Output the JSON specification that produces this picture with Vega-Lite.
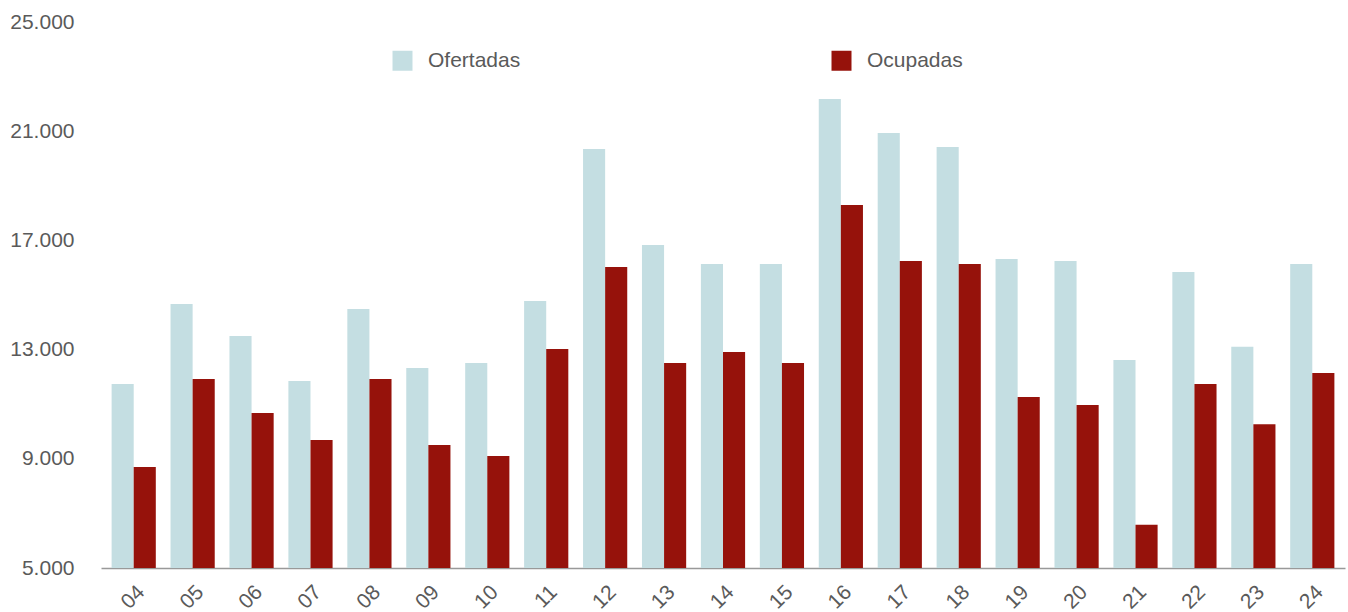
{
  "$schema": "https://vega.github.io/schema/vega-lite/v6.json",
  "autosize": {"type": "none"},
  "padding": {"left": 101, "top": 22, "right": 3, "bottom": 44},
  "width": 1244,
  "height": 546,
  "background": "#ffffff",
  "config": {
    "view": {"stroke": null},
    "font": "Liberation Sans",
    "axis": {"labelFont": "Liberation Sans", "labelColor": "#5a5a5a", "labelFontSize": 21}
  },
  "data": {
    "values": [
      {"anio": "04", "tipo": "Ofertadas", "plazas": 11740},
      {"anio": "04", "tipo": "Ocupadas", "plazas": 8700},
      {"anio": "05", "tipo": "Ofertadas", "plazas": 14670},
      {"anio": "05", "tipo": "Ocupadas", "plazas": 11920},
      {"anio": "06", "tipo": "Ofertadas", "plazas": 13500},
      {"anio": "06", "tipo": "Ocupadas", "plazas": 10680},
      {"anio": "07", "tipo": "Ofertadas", "plazas": 11850},
      {"anio": "07", "tipo": "Ocupadas", "plazas": 9690},
      {"anio": "08", "tipo": "Ofertadas", "plazas": 14490},
      {"anio": "08", "tipo": "Ocupadas", "plazas": 11920},
      {"anio": "09", "tipo": "Ofertadas", "plazas": 12330},
      {"anio": "09", "tipo": "Ocupadas", "plazas": 9510},
      {"anio": "10", "tipo": "Ofertadas", "plazas": 12510},
      {"anio": "10", "tipo": "Ocupadas", "plazas": 9100},
      {"anio": "11", "tipo": "Ofertadas", "plazas": 14780},
      {"anio": "11", "tipo": "Ocupadas", "plazas": 13020},
      {"anio": "12", "tipo": "Ofertadas", "plazas": 20350},
      {"anio": "12", "tipo": "Ocupadas", "plazas": 16030},
      {"anio": "13", "tipo": "Ofertadas", "plazas": 16830},
      {"anio": "13", "tipo": "Ocupadas", "plazas": 12510},
      {"anio": "14", "tipo": "Ofertadas", "plazas": 16140},
      {"anio": "14", "tipo": "Ocupadas", "plazas": 12910},
      {"anio": "15", "tipo": "Ofertadas", "plazas": 16140},
      {"anio": "15", "tipo": "Ocupadas", "plazas": 12510},
      {"anio": "16", "tipo": "Ofertadas", "plazas": 22180},
      {"anio": "16", "tipo": "Ocupadas", "plazas": 18300},
      {"anio": "17", "tipo": "Ofertadas", "plazas": 20930},
      {"anio": "17", "tipo": "Ocupadas", "plazas": 16250},
      {"anio": "18", "tipo": "Ofertadas", "plazas": 20420},
      {"anio": "18", "tipo": "Ocupadas", "plazas": 16140},
      {"anio": "19", "tipo": "Ofertadas", "plazas": 16320},
      {"anio": "19", "tipo": "Ocupadas", "plazas": 11260},
      {"anio": "20", "tipo": "Ofertadas", "plazas": 16250},
      {"anio": "20", "tipo": "Ocupadas", "plazas": 10970},
      {"anio": "21", "tipo": "Ofertadas", "plazas": 12620},
      {"anio": "21", "tipo": "Ocupadas", "plazas": 6580},
      {"anio": "22", "tipo": "Ofertadas", "plazas": 15840},
      {"anio": "22", "tipo": "Ocupadas", "plazas": 11740},
      {"anio": "23", "tipo": "Ofertadas", "plazas": 13100},
      {"anio": "23", "tipo": "Ocupadas", "plazas": 10270},
      {"anio": "24", "tipo": "Ofertadas", "plazas": 16140},
      {"anio": "24", "tipo": "Ocupadas", "plazas": 12140}
    ]
  },
  "mark": {"type": "bar", "clip": true},
  "encoding": {
    "x": {
      "field": "anio",
      "type": "nominal",
      "sort": null,
      "scale": {"paddingInner": 0.25, "paddingOuter": 0.18},
      "axis": {
        "title": null,
        "labelAngle": -45,
        "ticks": false,
        "labelPadding": 13,
        "domainColor": "#999999",
        "domainWidth": 1.5
      }
    },
    "xOffset": {
      "field": "tipo",
      "type": "nominal",
      "sort": ["Ofertadas", "Ocupadas"],
      "scale": {"paddingInner": 0, "paddingOuter": 0}
    },
    "y": {
      "field": "plazas",
      "type": "quantitative",
      "scale": {"domain": [5000, 25000], "nice": false, "zero": false},
      "axis": {
        "title": null,
        "values": [5000, 9000, 13000, 17000, 21000, 25000],
        "labelExpr": "replace(format(datum.value, ','), ',', '.')",
        "grid": false,
        "domain": false,
        "ticks": false,
        "labelPadding": 27
      }
    },
    "y2": {"datum": 5000},
    "color": {
      "field": "tipo",
      "type": "nominal",
      "sort": ["Ofertadas", "Ocupadas"],
      "scale": {"domain": ["Ofertadas", "Ocupadas"], "range": ["#c4dee2", "#96120b"]},
      "legend": {
        "title": null,
        "orient": "none",
        "legendX": 291,
        "legendY": 28,
        "direction": "horizontal",
        "symbolType": "square",
        "symbolSize": 400,
        "symbolStrokeWidth": 0,
        "symbolOpacity": 1,
        "labelFont": "Liberation Sans",
        "labelFontSize": 21,
        "labelColor": "#5a5a5a",
        "labelOffset": 15,
        "columnPadding": 310
      }
    }
  }
}
